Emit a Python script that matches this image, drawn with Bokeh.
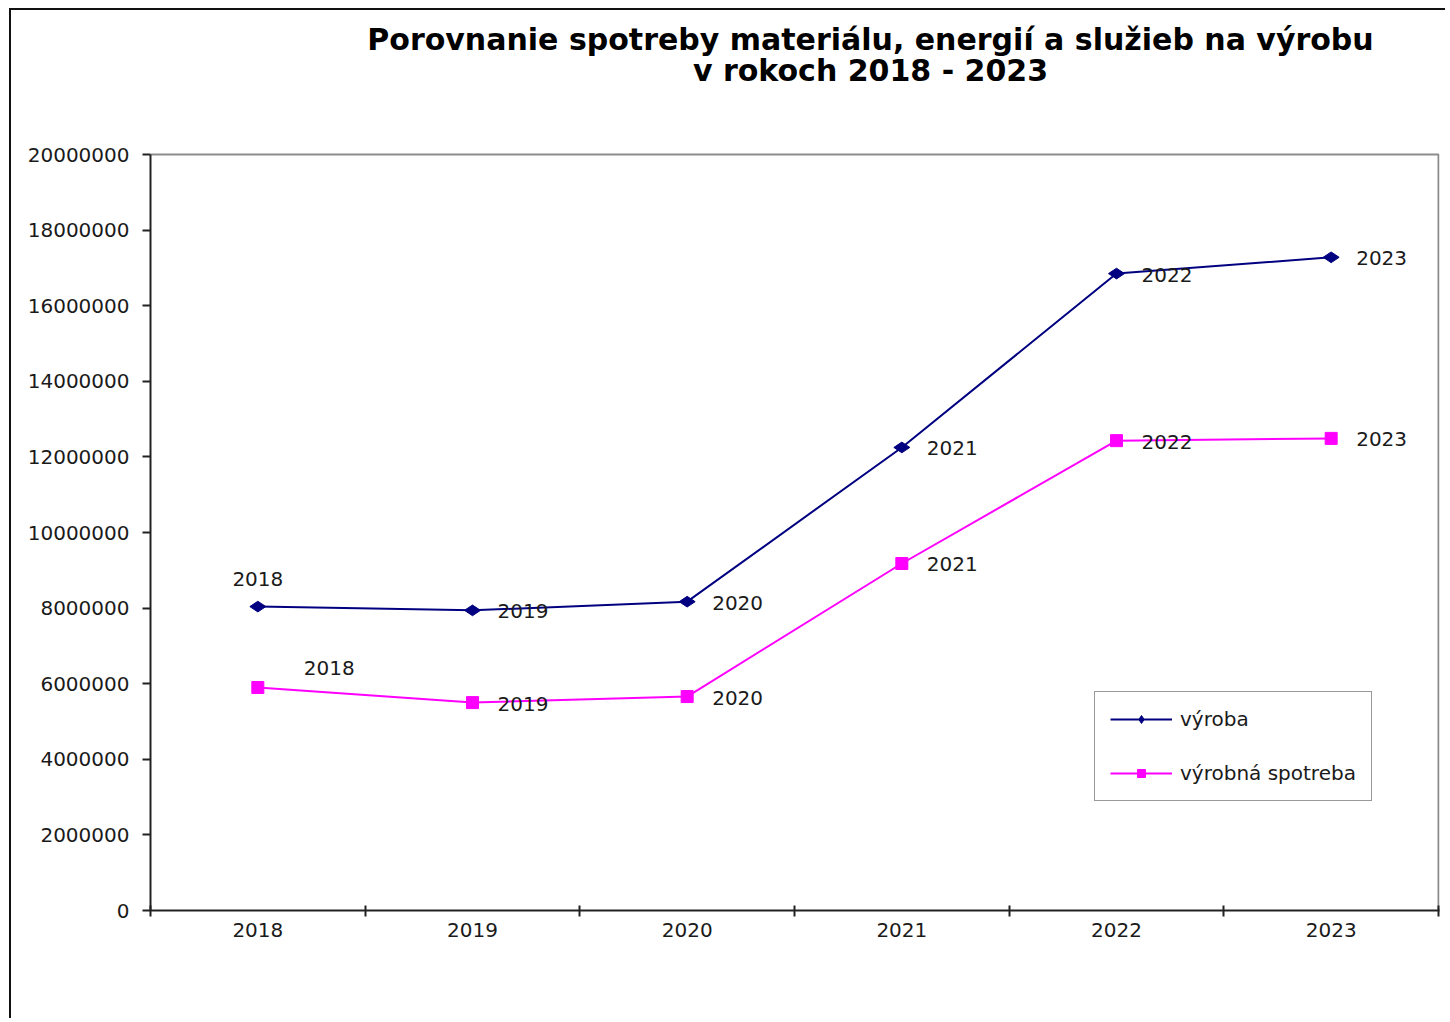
from bokeh.plotting import figure
from bokeh.models import (Range1d, FixedTicker, PrintfTickFormatter, Label,
                          Legend, LegendItem, ColumnDataSource)
from bokeh.embed import file_html
from bokeh.resources import INLINE
from bokeh.core.properties import value

# ---- data ----
years = ["2018", "2019", "2020", "2021", "2022", "2023"]
vyroba = [8040000, 7940000, 8170000, 12250000, 16850000, 17280000]
spotreba = [5900000, 5500000, 5660000, 9180000, 12430000, 12490000]
y_ticks = [0, 2000000, 4000000, 6000000, 8000000, 10000000,
           12000000, 14000000, 16000000, 18000000, 20000000]
series_names = ["výroba", "výrobná spotreba"]
title_lines = ["Porovnanie spotreby materiálu, energií a služieb na výrobu",
               "v rokoch 2018 - 2023"]

FONT = "DejaVu Sans"
TXT = "#1a1a1a"
NAVY = "#000080"
MAG = "#FF00FF"
AX = "#222222"

n = len(years)
xs = [i + 0.5 for i in range(n)]
y_axis_top = y_ticks[-1]
# frame extends above the axis top so the title can live inside it
y_view_top = y_axis_top * 900 / 756
x_view_end = n * 1289 / 1288

p = figure(width=1436, height=1010, output_backend="svg", toolbar_location=None,
           x_range=Range1d(0, x_view_end), y_range=Range1d(0, y_view_top),
           min_border_left=139, min_border_right=8, min_border_top=0,
           min_border_bottom=110)
p.styles = {"margin-left": "9px", "margin-top": "8px",
            "border-left": "2px solid #111", "border-top": "2px solid #111"}
p.background_fill_color = "white"
p.border_fill_color = "white"
p.outline_line_color = None
p.xgrid.visible = False
p.ygrid.visible = False

# x axis
xa = p.xaxis[0]
xa.ticker = FixedTicker(ticks=xs, minor_ticks=list(range(n + 1)))
xa.major_label_overrides = {x: y for x, y in zip(xs, years)}
xa.major_tick_line_color = None
xa.major_tick_in = 0
xa.major_tick_out = 0
xa.minor_tick_in = 5
xa.minor_tick_out = 6
xa.minor_tick_line_color = AX
xa.minor_tick_line_width = 2
xa.axis_line_color = AX
xa.axis_line_width = 2
xa.major_label_standoff = 6
xa.major_label_text_font = FONT
xa.major_label_text_font_size = "20px"
xa.major_label_text_color = TXT

# y axis
ya = p.yaxis[0]
ya.ticker = FixedTicker(ticks=y_ticks)
ya.bounds = (0, y_axis_top)
ya.formatter = PrintfTickFormatter(format="%d")
ya.minor_tick_line_color = None
ya.major_tick_in = 0
ya.major_tick_out = 8
ya.major_tick_line_color = AX
ya.major_tick_line_width = 2
ya.axis_line_color = AX
ya.axis_line_width = 2
ya.major_label_standoff = 13
ya.major_label_text_font = FONT
ya.major_label_text_font_size = "20px"
ya.major_label_text_color = TXT

# plot-area border (top and right, grey)
p.line(x=[0, n, n], y=[y_axis_top, y_axis_top, 0], line_color="#8c8c8c",
       line_width=2)

# series
src = ColumnDataSource(dict(x=xs, v=vyroba, s=spotreba, t=years))
l1 = p.line("x", "v", source=src, line_color=NAVY, line_width=2)
m1 = p.scatter("x", "v", source=src, marker="diamond", size=16, angle=1.5708,
               fill_color=NAVY, line_color=NAVY)
l2 = p.line("x", "s", source=src, line_color=MAG, line_width=2)
m2 = p.scatter("x", "s", source=src, marker="square", size=12,
               fill_color=MAG, line_color=MAG)

# data labels
src_rest = ColumnDataSource(dict(x=xs[1:], v=vyroba[1:], s=spotreba[1:], t=years[1:]))
for col in ("v", "s"):
    p.text("x", col, text="t", source=src_rest, x_offset=25, y_offset=1,
           text_align="left", text_baseline="middle",
           text_font=value(FONT), text_font_size="20px", text_color=TXT)
p.text(x=[xs[0]], y=[vyroba[0]], text=[years[0]], x_offset=0, y_offset=-28,
       text_align="center", text_baseline="middle",
       text_font=value(FONT), text_font_size="20px", text_color=TXT)
p.text(x=[xs[0]], y=[spotreba[0]], text=[years[0]], x_offset=46, y_offset=-19,
       text_align="left", text_baseline="middle",
       text_font=value(FONT), text_font_size="20px", text_color=TXT)

# legend
legend = Legend(items=[LegendItem(label=series_names[0], renderers=[l1, m1]),
                       LegendItem(label=series_names[1], renderers=[l2, m2])],
                location=(944, 109))
legend.border_line_color = "#333333"
legend.border_line_width = 1
legend.background_fill_color = "white"
legend.background_fill_alpha = 1
legend.padding = 15
legend.spacing = 30
legend.glyph_width = 62
legend.glyph_height = 20
legend.label_height = 20
legend.label_standoff = 8
legend.label_text_font = FONT
legend.label_text_font_size = "20px"
legend.label_text_color = TXT
legend.margin = 0
p.add_layout(legend)

# title (two centred lines, inside the extended frame)
tx = 3.354
p.add_layout(Label(x=tx, y=23040000, text=title_lines[0], text_align="center",
                   text_baseline="middle", text_font=FONT, text_font_size="30px",
                   text_font_style="bold", text_color="black"))
p.add_layout(Label(x=tx, y=22220000, text=title_lines[1], text_align="center",
                   text_baseline="middle", text_font=FONT, text_font_size="30px",
                   text_font_style="bold", text_color="black"))

open("out.html", "w").write(file_html(p, INLINE))
